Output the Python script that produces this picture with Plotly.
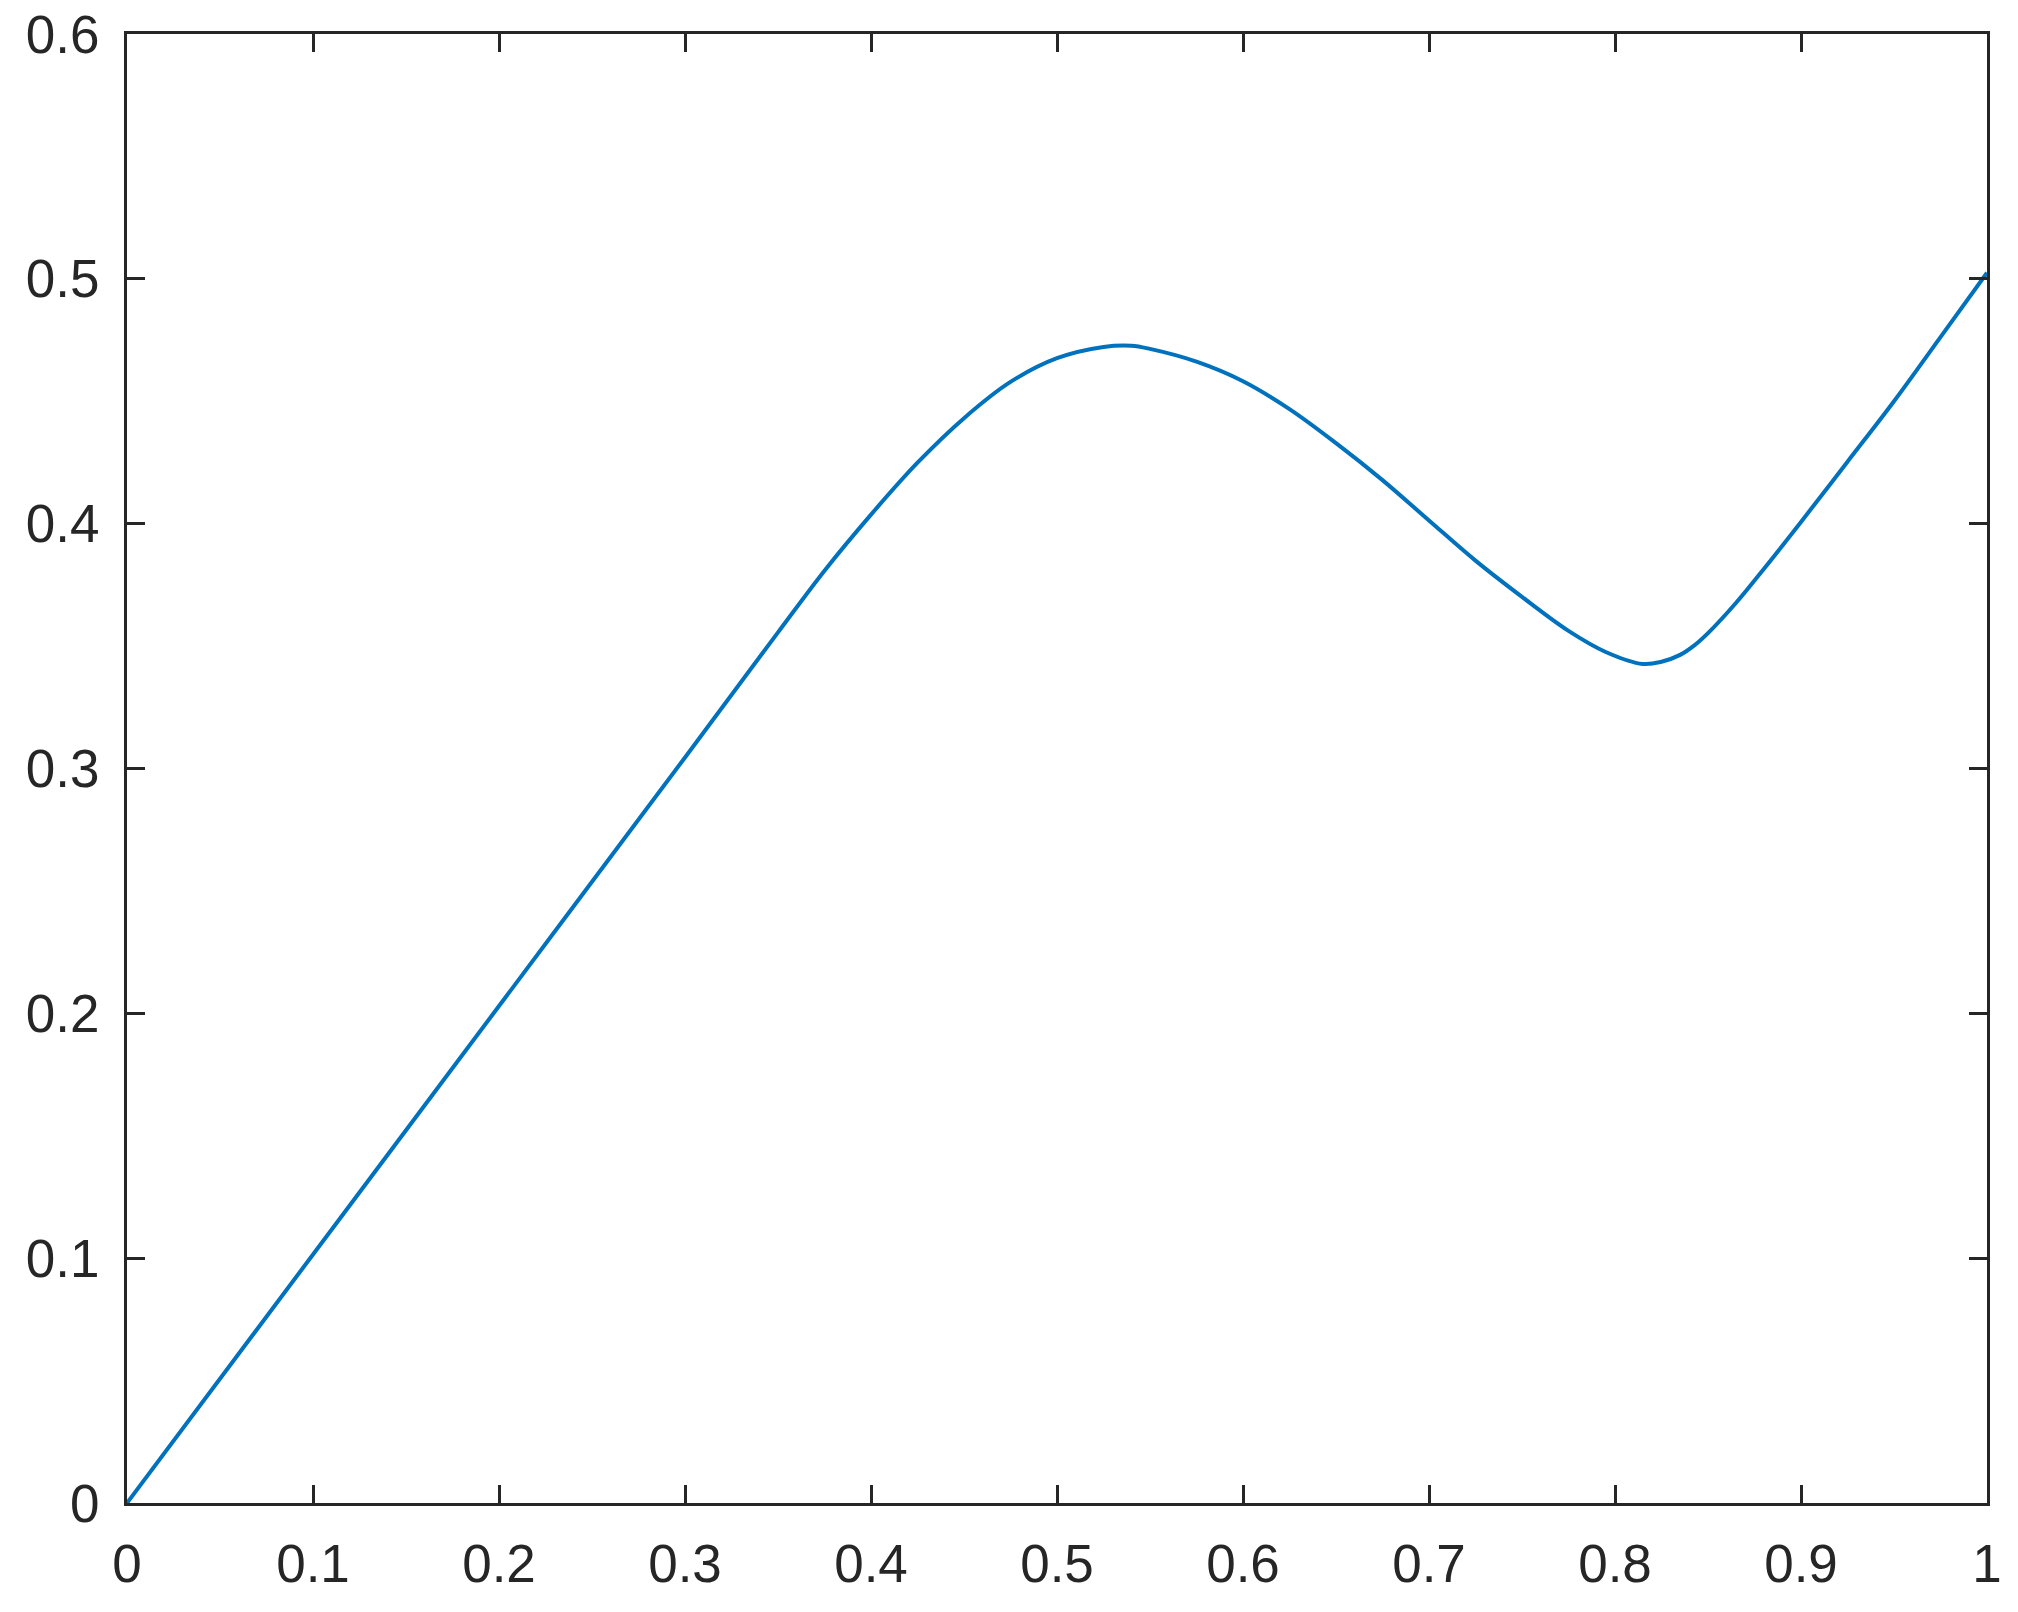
import plotly.graph_objects as go

# curve values
x = [0.0, 0.1, 0.2, 0.3, 0.35, 0.375, 0.4, 0.425, 0.45, 0.475, 0.5, 0.525,
     0.54, 0.55, 0.575, 0.6, 0.625, 0.65, 0.675, 0.7, 0.725, 0.75, 0.775,
     0.795, 0.815, 0.825, 0.835, 0.843, 0.85, 0.865, 0.88, 0.9, 0.925, 0.95,
     0.975, 1.0]
y = [0.0, 0.1015, 0.203, 0.3045, 0.3556, 0.3808, 0.4037, 0.4249, 0.4431,
     0.4579, 0.4676, 0.4722, 0.4727, 0.4714, 0.4662, 0.4582, 0.4468, 0.4329,
     0.4178, 0.4013, 0.3849, 0.3701, 0.3562, 0.3476, 0.3427, 0.3436, 0.3464,
     0.3505, 0.3553, 0.3676, 0.3815, 0.4007, 0.4253, 0.4500, 0.4762, 0.5025]

fig = go.Figure()
fig.add_trace(go.Scatter(x=x, y=y, mode="lines", line_shape="spline",
                         line=dict(color="#0072BD", width=4),
                         showlegend=False))

axis_style = dict(showgrid=False, zeroline=False, showline=True, linecolor="#262626",
                  linewidth=3, mirror="ticks", ticks="inside", ticklen=18,
                  tickwidth=3, tickcolor="#262626", dtick=0.1, automargin=False,
                  ticklabeloverflow="allow",
                  tickfont=dict(family="Liberation Sans, Arial, sans-serif",
                                size=53, color="#262626"))

fig.update_xaxes(range=[0, 1], tick0=0, ticklabelstandoff=12, **axis_style)
fig.update_yaxes(range=[0, 0.6], tick0=0, ticklabelstandoff=14, **axis_style)

fig.update_layout(width=2018, height=1612, plot_bgcolor="white", paper_bgcolor="white",
                  margin=dict(l=127, r=31, t=34, b=109))

# drop the default 8px body margin so the figure fills the window
fig.write_html("out.html", config={"displayModeBar": False},
               post_script="document.body.style.margin='0';")
